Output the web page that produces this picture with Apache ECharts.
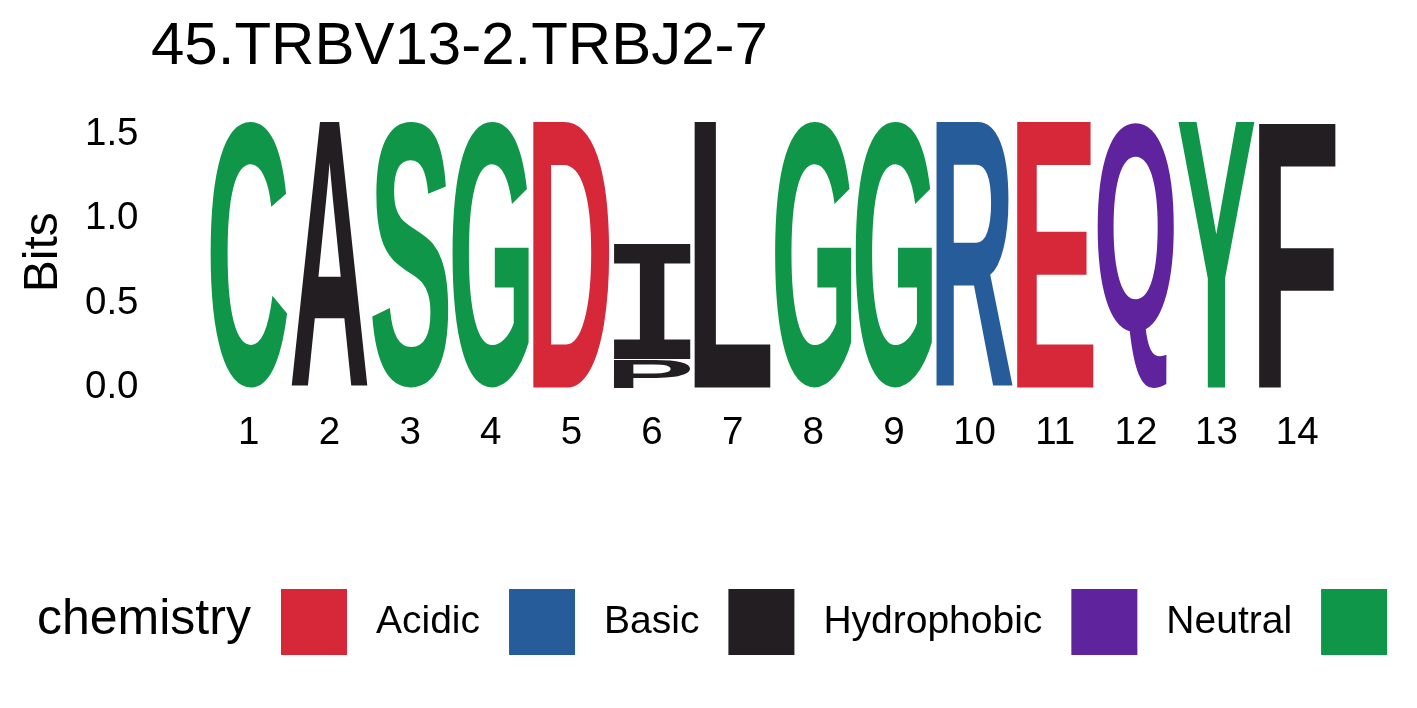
<!DOCTYPE html>
<html>
<head>
<meta charset="utf-8">
<title>45.TRBV13-2.TRBJ2-7</title>
<script src="https://cdn.jsdelivr.net/npm/echarts@6/dist/echarts.min.js"></script>
<style>
    html, body {margin: 0; padding: 0; background: #fff;}
    #main {width: 1417px; height: 708px;}
</style>
</head>
<body>
<div id="main"></div>
<script>
// positions on the x axis
const positions = ['1', '2', '3', '4', '5', '6', '7', '8', '9', '10', '11', '12', '13', '14'];

// letter stacks, bottom to top within a position
const stackPos = ['1', '2', '3', '4', '5', '6', '6', '7', '8', '9', '10', '11', '12', '13', '14'];
const stackLetter = ['C', 'A', 'S', 'G', 'D', 'P', 'I', 'L', 'G', 'G', 'R', 'E', 'Q', 'Y', 'F'];
const stackBits = [1.575, 1.575, 1.575, 1.575, 1.575, 0.17, 0.685, 1.575, 1.575, 1.575, 1.575, 1.575, 1.575, 1.575, 1.575];

// chemistry colour scheme
const chemNames = ['Acidic', 'Basic', 'Hydrophobic', 'Neutral', 'Polar'];
const chemColors = ['#D62839', '#255C99', '#221E22', '#5E239D', '#109648'];
const chemLetters = ['DE', 'HKR', 'AVLIPWFM', 'QN', 'GSTYC'];

const yTicks = [0, 0.5, 1.0, 1.5];

const FONT = '"Liberation Sans", Arial, Helvetica, sans-serif';
const LOGO_FONT = 'bold 200px "Liberation Sans"';
// the serif I of the logo font
const LOGO_FONT_I = 'bold 200px "Liberation Mono"';

function letterFont(ch) {
    return ch === 'I' ? LOGO_FONT_I : LOGO_FONT;
}

// glyph ink box measured with the same baseline zrender uses
let measureCtx = document.createElement('canvas').getContext('2d');
let glyphCache = {};
function glyphBox(ch) {
    if (!glyphCache[ch]) {
        measureCtx.font = letterFont(ch);
        measureCtx.textAlign = 'left';
        measureCtx.textBaseline = 'middle';
        let m = measureCtx.measureText(ch);
        glyphCache[ch] = {
            l: m.actualBoundingBoxLeft,
            r: m.actualBoundingBoxRight,
            a: m.actualBoundingBoxAscent,
            d: m.actualBoundingBoxDescent
        };
    }
    return glyphCache[ch];
}

// build one custom series per chemistry group
let base = {};
let seriesItems = chemNames.map(function () { return []; });
for (let i = 0; i < stackLetter.length; i++) {
    let p = stackPos[i];
    let y0 = base[p] || 0;
    let y1 = y0 + stackBits[i];
    base[p] = y1;
    let g = chemLetters.findIndex(function (s) { return s.indexOf(stackLetter[i]) >= 0; });
    seriesItems[g].push({value: [positions.indexOf(p), y0, y1], letter: stackLetter[i]});
}

function makeRender(items, color) {
    return function (params, api) {
        let it = items[params.dataIndex];
        let lo = api.coord([api.value(0), api.value(1)]);
        let hi = api.coord([api.value(0), api.value(2)]);
        let w = api.size([1, 0])[0] * 0.95;
        let left = lo[0] - w / 2, top = hi[1], h = lo[1] - hi[1];
        let gb = glyphBox(it.letter);
        let sx = w / (gb.l + gb.r);
        let sy = h / (gb.a + gb.d);
        return {
            type: 'text',
            silent: true,
            x: left + gb.l * sx,
            y: top + gb.a * sy,
            scaleX: sx,
            scaleY: sy,
            style: {
                text: it.letter,
                font: letterFont(it.letter),
                fill: color,
                align: 'left',
                verticalAlign: 'middle'
            }
        };
    };
}

let series = chemNames.map(function (name, k) {
    return {
        name: name,
        type: 'custom',
        coordinateSystem: 'cartesian2d',
        itemStyle: {color: chemColors[k]},
        data: seriesItems[k].map(function (d) { return d.value; }),
        renderItem: makeRender(seriesItems[k], chemColors[k])
    };
});

let myChart = echarts.init(document.getElementById('main'));
let option = {
    backgroundColor: '#fff',
    animation: false,
    title: [
        {
            text: '45.TRBV13-2.TRBJ2-7',
            left: 151,
            top: 17,
            padding: 0,
            textStyle: {fontFamily: FONT, fontSize: 60, fontWeight: 'normal', color: '#000'}
        },
        {
            text: 'chemistry',
            left: 37,
            top: 595,
            padding: 0,
            textStyle: {fontFamily: FONT, fontSize: 50, fontWeight: 'normal', color: '#000'}
        }
    ],
    legend: {
        left: 281,
        top: 589,
        width: 3000,
        padding: 0,
        icon: 'rect',
        itemWidth: 66,
        itemHeight: 66,
        itemGap: 29,
        selectedMode: false,
        data: chemNames,
        textStyle: {fontFamily: FONT, fontSize: 39, color: '#000', padding: [4, 0, 0, 24]}
    },
    grid: {
        left: 208.5,
        right: 79.5,
        top: 117,
        bottom: 320.5
    },
    xAxis: {
        type: 'category',
        data: positions,
        axisLine: {show: false},
        axisTick: {show: false},
        splitLine: {show: false},
        axisLabel: {fontFamily: FONT, fontSize: 38.5, color: '#000', margin: 26, interval: 0}
    },
    yAxis: {
        type: 'value',
        min: 0,
        max: 1.6,
        interval: 0.5,
        name: 'Bits',
        nameLocation: 'middle',
        nameRotate: 90,
        nameGap: 141,
        nameTextStyle: {fontFamily: FONT, fontSize: 48, color: '#000'},
        axisLine: {show: false},
        axisTick: {show: false},
        splitLine: {show: false},
        axisLabel: {
            fontFamily: FONT, fontSize: 38.5, color: '#000', margin: 70, padding: [3, 0, 0, 0],
            formatter: function (v) {
                return yTicks.some(function (t) { return Math.abs(t - v) < 1e-6; }) ? v.toFixed(1) : '';
            }
        }
    },
    series: series
};
myChart.setOption(option);
</script>
</body>
</html>
